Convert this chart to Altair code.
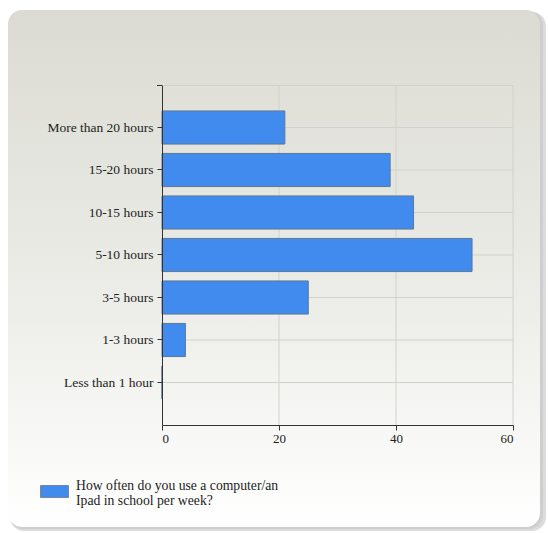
import altair as alt
import pandas as pd

# Survey answers, top to bottom as listed on the axis
categories = [
    "More than 20 hours",
    "15-20 hours",
    "10-15 hours",
    "5-10 hours",
    "3-5 hours",
    "1-3 hours",
    "Less than 1 hour",
]
counts = [21, 39, 43, 53, 25, 4, 0]
x_ticks = [0, 20, 40, 60]
grid_x = [20, 40, 60]
series_name = "How often do you use a computer/an|Ipad in school per week?"

FONT = "Liberation Serif"
TEXT = "#222222"
BAR = "#418AEE"
GRID = "#d2d2cc"

W, H = 351, 340

bars_df = pd.DataFrame({"answer": categories, "value": counts, "series": series_name})
vgrid_df = pd.DataFrame({"value": grid_x})

x_axis = alt.Axis(
    values=x_ticks, title=None, grid=False, zindex=1,
    domainColor="#333333", tickColor="#333333", tickSize=5,
    labelFont=FONT, labelFontSize=13, labelColor=TEXT, labelPadding=2,
)
x_enc = alt.X("value:Q", scale=alt.Scale(domain=[0, 60], nice=False), axis=x_axis)

y_enc = alt.Y(
    "answer:N",
    sort=categories,
    scale=alt.Scale(paddingInner=0.22, paddingOuter=0.61),
    axis=alt.Axis(
        title=None, grid=False, zindex=1,
        domainColor="#333333", tickColor="#333333", tickSize=5,
        labelFont=FONT, labelFontSize=13.5, labelColor=TEXT, labelPadding=4,
    ),
)

one = alt.Data(values=[{}])

# Drop shadow and gradient panel behind the whole chart
shadow = alt.Chart(one).mark_rect(cornerRadius=14, color="#9a9a9a", opacity=0.35).encode(
    x=alt.value(-152), x2=alt.value(384), y=alt.value(-73), y2=alt.value(446)
)
shadow2 = alt.Chart(one).mark_rect(cornerRadius=14, color="#b5b5b5", opacity=0.35).encode(
    x=alt.value(-153), x2=alt.value(381), y=alt.value(-74), y2=alt.value(444)
)
panel = alt.Chart(one).mark_rect(
    cornerRadius=14,
    color=alt.LinearGradient(
        gradient="linear", x1=0, x2=0, y1=0, y2=1,
        stops=[
            alt.GradientStop(color="#dbdbd3", offset=0),
            alt.GradientStop(color="#eeeeea", offset=0.6),
            alt.GradientStop(color="#ffffff", offset=1),
        ],
    ),
).encode(x=alt.value(-154), x2=alt.value(378), y=alt.value(-75), y2=alt.value(442))

# Grid lines drawn under the bars
hgrid = alt.Chart(bars_df).mark_rule(color=GRID, strokeWidth=1).encode(y=y_enc)
vgrid = alt.Chart(vgrid_df).mark_rule(color=GRID, strokeWidth=1).encode(x=x_enc)
top_line = alt.Chart(one).mark_rule(color=GRID, strokeWidth=1).encode(
    x=alt.value(0), x2=alt.value(W), y=alt.value(0.5)
)

bars = alt.Chart(bars_df).mark_bar(stroke="#5f7796", strokeWidth=1).encode(
    x=x_enc,
    y=y_enc,
    color=alt.Color(
        "series:N",
        scale=alt.Scale(domain=[series_name], range=[BAR]),
        legend=alt.Legend(
            title=None, orient="none", legendX=-122, legendY=386,
            # swatch path sits a little below the first label line
            symbolType="M-1,0H1V0.86H-1Z", symbolSize=784,
            symbolStrokeColor="#7a8696", symbolStrokeWidth=1, symbolOpacity=1,
            labelFont=FONT, labelFontSize=13.7, labelColor=TEXT,
            labelLimit=0, labelOffset=7, padding=0,
            labelExpr="split(datum.label, '|')",
        ),
    ),
)

# Small end ticks on the left of the value axis
end_ticks = alt.Chart(alt.Data(values=[{"p": 0}, {"p": H}])).mark_rule(color="#333333").encode(
    x=alt.value(-5), x2=alt.value(0), y=alt.value(0.5)
)

chart = alt.layer(shadow, shadow2, panel, hgrid, vgrid, top_line, bars, end_ticks).properties(
    width=W, height=H,
    autosize=alt.AutoSizeParams(type="none"),
    padding={"left": 162, "top": 85, "right": 35, "bottom": 108},
).configure_view(stroke=None).configure(background="#ffffff")

chart.save("out.html", embed_options={"renderer": "svg", "actions": False})
